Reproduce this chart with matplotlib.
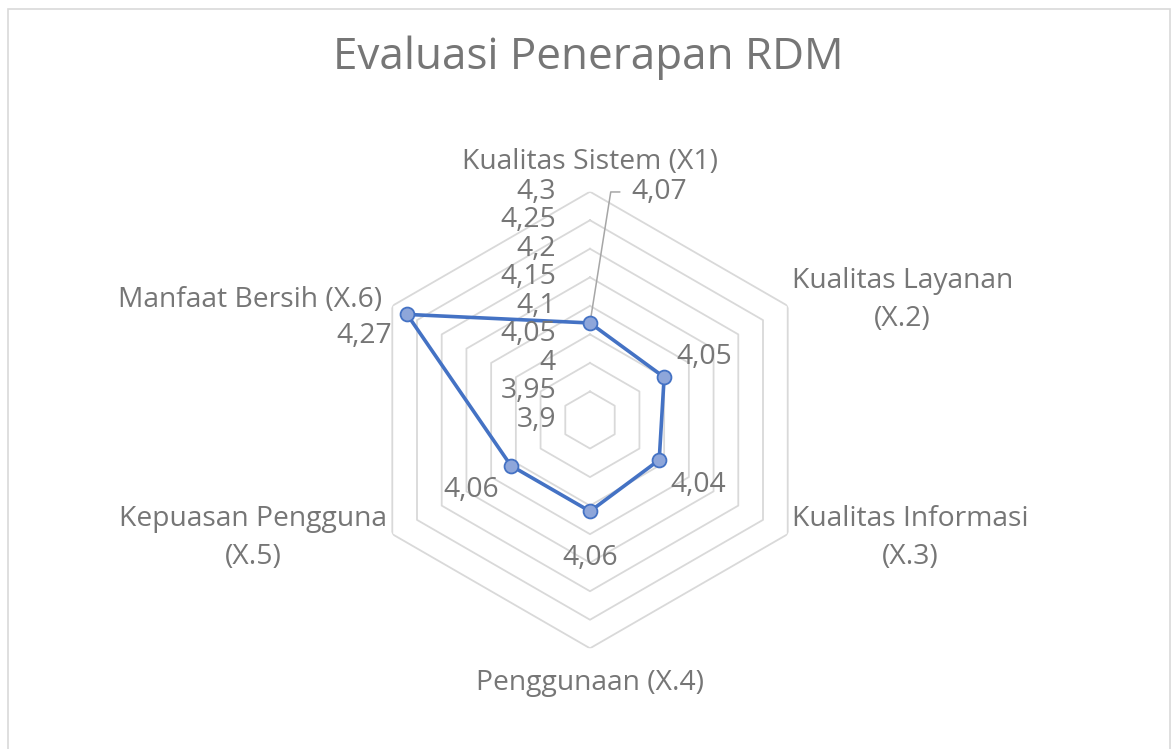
import numpy as np
import matplotlib
matplotlib.use("Agg")
import matplotlib.pyplot as plt
from matplotlib.patches import Rectangle
from matplotlib.transforms import offset_copy

# ---- data ----
categories = ["Kualitas Sistem (X1)", "Kualitas Layanan\n(X.2)", "Kualitas Informasi\n(X.3)",
              "Penggunaan (X.4)", "Kepuasan Pengguna\n(X.5)", "Manfaat Bersih (X.6)"]
values = [4.07, 4.05, 4.04, 4.06, 4.06, 4.27]
value_labels = ["4,07", "4,05", "4,04", "4,06", "4,06", "4,27"]
ticks = [3.9, 3.95, 4.0, 4.05, 4.1, 4.15, 4.2, 4.25, 4.3]
tick_labels = ["3,9", "3,95", "4", "4,05", "4,1", "4,15", "4,2", "4,25", "4,3"]
title = "Evaluasi Penerapan RDM"
rmin, rmax = 3.9, 4.3

TXT = "#767676"
GRID = "#D9D9D9"
LINE = "#4472C4"
FILL = "#8EA6DA"
FONT = ["Open Sans", "DejaVu Sans"]
FS = 20.3

W, H = 1176, 749
fig = plt.figure(figsize=(W / 100, H / 100), dpi=100)
fig.patch.set_facecolor("white")

cx, cy, R = 590, 420, 228.3
ax = fig.add_axes([(cx - R) / W, (H - cy - R) / H, 2 * R / W, 2 * R / H], projection="polar")
ax.set_theta_offset(np.pi / 2)
ax.set_theta_direction(-1)
ax.set_ylim(rmin, rmax)
ax.grid(False)
ax.set_xticks([])
ax.set_yticks([])
ax.spines["polar"].set_visible(False)
ax.patch.set_alpha(0)

n = len(categories)
theta = np.arange(n) * 2 * np.pi / n
theta_c = np.append(theta, theta[0])

# hexagonal grid rings
for t in ticks[1:]:
    ax.plot(theta_c, [t] * (n + 1), color=GRID, lw=1.3, zorder=1)

# data series
vals_c = values + [values[0]]
ax.plot(theta_c, vals_c, color=LINE, lw=2.6, zorder=3)
ax.plot(theta, values, ls="none", marker="o", ms=10, mfc=FILL, mec=LINE, mew=1.3, zorder=4)

# radial tick labels
for t, lab in zip(ticks, tick_labels):
    tr = offset_copy(ax.transData, fig=fig, x=-34, y=0, units="dots")
    ax.text(0, t, lab, transform=tr, ha="right", va="center", fontsize=FS, color=TXT,
            family=FONT, zorder=5)

# category labels (offsets from outer vertex, in pixels)
cat_off = [(0, 30, "center"), (115, 6, "center"), (123, -4, "center"),
           (0, -35, "center"), (-139, -4, "center"), (-10, 6, "right")]
for th, lab, (dx, dy, ha) in zip(theta, categories, cat_off):
    tr = offset_copy(ax.transData, fig=fig, x=dx, y=dy, units="dots")
    ax.text(th, rmax, lab, transform=tr, ha=ha, va="center", fontsize=FS, color=TXT,
            family=FONT, multialignment="center", linespacing=1.45, clip_on=False)

# data labels
lab_off = [None, (40, 20), (39, -25), (0, -47), (-40, -24), (-43, -22)]
for i, (th, v, lab) in enumerate(zip(theta, values, value_labels)):
    if lab_off[i] is None:
        ax.annotate(lab, xy=(th, v), xytext=(41, 131), textcoords="offset pixels",
                    ha="left", va="center", fontsize=FS, color=TXT, family=FONT,
                    annotation_clip=False,
                    arrowprops=dict(arrowstyle="-", color="#A6A6A6", lw=1.1,
                                    shrinkA=6, shrinkB=5, relpos=(0, 0.5),
                                    connectionstyle="angle,angleA=0,angleB=81,rad=0"))
    else:
        dx, dy = lab_off[i]
        tr = offset_copy(ax.transData, fig=fig, x=dx, y=dy, units="dots")
        ax.text(th, v, lab, transform=tr, ha="center", va="center", fontsize=FS,
                color=TXT, family=FONT, clip_on=False)

# title
fig.text(588 / W, 1 - 58 / H, title, ha="center", va="center", fontsize=31.7,
         color=TXT, family=FONT)

# chart border
fig.patches.append(Rectangle((8 / W, -0.02), 1162 / W, (H - 9) / H + 0.02,
                             transform=fig.transFigure, fill=False,
                             edgecolor=GRID, lw=1.2))

fig.savefig("out.png", dpi=100, facecolor="white")
